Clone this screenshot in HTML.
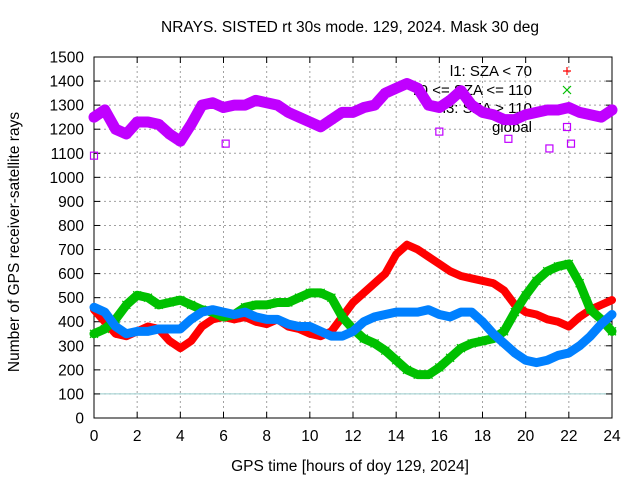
<!DOCTYPE html>
<html><head><meta charset="utf-8"><style>
body{margin:0;background:#fff}
svg{display:block;font-family:"Liberation Sans",sans-serif}
</style></head><body>
<svg id="chart" width="640" height="480" viewBox="0 0 640 480" xmlns="http://www.w3.org/2000/svg">
<rect width="640" height="480" fill="#fff"/>
<text x="350" y="32" font-size="15.5" text-anchor="middle">NRAYS. SISTED rt 30s mode. 129, 2024. Mask 30 deg</text>
<text x="350" y="471" font-size="15.5" text-anchor="middle">GPS time [hours of doy 129, 2024]</text>
<text transform="translate(19,242) rotate(-90)" font-size="15.5" text-anchor="middle">Number of GPS receiver-satellite rays</text>
<g id="grid"></g>
<g id="axes"></g>
<g id="legend">
<text x="532" y="76" font-size="15" text-anchor="end">l1: SZA &lt; 70</text>
<text x="532" y="95" font-size="15" text-anchor="end">70 &lt;= SZA &lt;= 110</text>
<text x="532" y="113" font-size="15" text-anchor="end">l3: SZA &gt; 110</text>
<text x="532" y="132" font-size="15" text-anchor="end">global</text>
</g>
<g id="series"></g>
</svg>
<script>
const hours=[0,0.5,1,1.5,2,2.5,3,3.5,4,4.5,5,5.5,6,6.5,7,7.5,8,8.5,9,9.5,10,10.5,11,11.5,12,12.5,13,13.5,14,14.5,15,15.5,16,16.5,17,17.5,18,18.5,19,19.5,20,20.5,21,21.5,22,22.5,23,23.5,24];
const globalVals=[1250,1280,1200,1180,1230,1230,1220,1180,1150,1220,1300,1310,1290,1300,1300,1320,1310,1300,1270,1250,1230,1210,1240,1270,1270,1290,1300,1350,1370,1390,1370,1300,1290,1320,1360,1300,1270,1260,1240,1240,1260,1270,1280,1280,1290,1270,1260,1250,1280];
const l1Vals=[450,400,350,340,360,380,370,320,290,320,380,410,420,410,420,400,390,410,380,370,350,340,360,420,480,520,560,600,680,720,700,670,640,610,590,580,570,560,530,470,440,430,410,400,380,420,450,470,490];
const l2Vals=[350,370,410,470,510,500,470,480,490,470,450,440,420,430,460,470,470,480,480,500,520,520,500,420,370,330,310,280,240,200,180,180,210,250,290,310,320,330,360,440,510,570,610,630,640,560,450,410,360];
const l3Vals=[460,440,380,350,360,360,370,370,370,410,440,450,440,430,440,420,410,410,390,380,380,360,340,340,360,400,420,430,440,440,440,450,430,420,440,440,400,350,310,270,240,230,240,260,270,300,340,390,430];
const outlierHours=[0,6.1,16,19.2,21.1,22.1];
const outlierVals=[1090,1140,1190,1160,1120,1140];
const xTicks=[0,2,4,6,8,10,12,14,16,18,20,22,24];
const yTicks=[0,100,200,300,400,500,600,700,800,900,1000,1100,1200,1300,1400,1500];

const X0=94,X1=612,Y0=418,Y1=57;
const xs=h=>X0+(X1-X0)*h/24;
const ys=v=>Y0-(Y0-Y1)*v/1500;
const NS="http://www.w3.org/2000/svg";
function mk(tag,attrs,parent){const e=document.createElementNS(NS,tag);for(const k in attrs)e.setAttribute(k,attrs[k]);parent.appendChild(e);return e;}
const grid=document.getElementById('grid'),axes=document.getElementById('axes'),ser=document.getElementById('series');

xTicks.forEach(t=>{
  if(t>0&&t<24){const l=mk('line',{x1:xs(t),x2:xs(t),y1:Y0,y2:Y1,stroke:'#a0a0a0','stroke-dasharray':'2,3'},grid);
  
  }
  const tk=mk('line',{x1:xs(t),x2:xs(t),y1:Y0,y2:Y0-6,stroke:'#000'},axes);
  
  
  const tk2=mk('line',{x1:xs(t),x2:xs(t),y1:Y1,y2:Y1+6,stroke:'#000'},axes);
  
  
  const tx=mk('text',{x:xs(t),y:Y0+23,'font-size':15.5,'text-anchor':'middle'},axes);tx.textContent=t;
  
  
});
yTicks.forEach(t=>{
  if(t>0&&t<1500){const l=mk('line',{x1:X0,x2:X1,y1:ys(t),y2:ys(t),stroke:'#a0a0a0','stroke-dasharray':'2,3'},grid);
  
  }
  const tk=mk('line',{x1:X0,x2:X0+6,y1:ys(t),y2:ys(t),stroke:'#000'},axes);
  
  
  const tk2=mk('line',{x1:X1,x2:X1-6,y1:ys(t),y2:ys(t),stroke:'#000'},axes);
  
  
  const tx=mk('text',{x:X0-10,y:ys(t)+5.5,'font-size':15.5,'text-anchor':'end'},axes);tx.textContent=t;
  
  
});
const ref=mk('line',{x1:X0,x2:X1,y1:ys(100),y2:ys(100),stroke:'#9cc','stroke-width':1},grid);


const frame=mk('rect',{x:X0,y:Y1,width:X1-X0,height:Y0-Y1,fill:'none',stroke:'#000'},axes);



function marker(kind,x,y,color,g){
  if(kind==='plus'){mk('path',{d:`M${x-4} ${y}h8M${x} ${y-4}v8`,stroke:color,'stroke-width':1.2},g);}
  else if(kind==='cross'){mk('path',{d:`M${x-4} ${y-4}l8 8M${x-4} ${y+4}l8 -8`,stroke:color,'stroke-width':1.2},g);}
  else if(kind==='star'){mk('path',{d:`M${x-4} ${y}h8M${x} ${y-4}v8M${x-3} ${y-3}l6 6M${x-3} ${y+3}l6 -6`,stroke:color,'stroke-width':1.2},g);}
  else {mk('rect',{x:x-3.5,y:y-3.5,width:7,height:7,fill:'none',stroke:color,'stroke-width':1.2},g);}
}
function series(name,vals,color,kind,w){
  const g=mk('g',{},ser);
  
  
  const pts=hours.map((h,i)=>xs(h)+','+ys(vals[i])).join(' ');
  mk('polyline',{points:pts,fill:'none',stroke:color,'stroke-width':w,'stroke-linejoin':'round','stroke-linecap':'round'},g);
  hours.forEach((h,i)=>marker(kind,xs(h),ys(vals[i]),color,g));
  return g;
}
series('series-l1',l1Vals,'#ff0000','plus',8);
series('series-l2',l2Vals,'#00c000','cross',9);
series('series-l3',l3Vals,'#0080ff','star',9);
const gg=series('series-global',globalVals,'#c000ff','square',11);
outlierHours.forEach((h,i)=>marker('square',xs(h),ys(outlierVals[i]),'#c000ff',gg));

const lg=document.getElementById('legend');
marker('plus',567,71,'#ff0000',lg);
marker('cross',567,90,'#00c000',lg);
marker('star',567,108,'#0080ff',lg);
marker('square',567,127,'#c000ff',lg);
</script>
</body></html>
